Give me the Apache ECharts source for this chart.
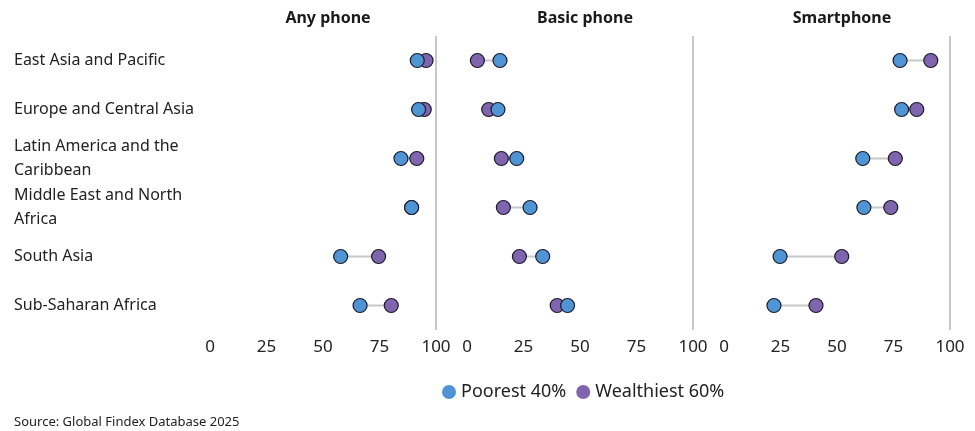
<!DOCTYPE html>
<html>
<head>
<meta charset="utf-8">
<script src="https://cdn.jsdelivr.net/npm/echarts@6/dist/echarts.min.js"></script>
<style>
  html, body { margin: 0; padding: 0; background: #fff; }
  #main { width: 975px; height: 431px; }
</style>
</head>
<body>
<div id="main"></div>
<script>
var regions = ['East Asia and Pacific', 'Europe and Central Asia', 'Latin America and the Caribbean',
    'Middle East and North Africa', 'South Asia', 'Sub-Saharan Africa'];
var panels = ['Any phone', 'Basic phone', 'Smartphone'];
var xTicks = [0, 25, 50, 75, 100];

// Poorest 40% / Wealthiest 60%, per panel, same order as regions
var anyPoor = [91.7, 92.3, 84.5, 89.2, 57.8, 66.4];
var anyRich = [95.6, 94.8, 91.5, 89.2, 74.6, 80.2];
var basicPoor = [14.6, 13.7, 22.0, 27.9, 33.5, 44.5];
var basicRich = [4.6, 9.6, 15.2, 16.1, 23.2, 39.9];
var smartPoor = [77.9, 78.6, 61.4, 61.9, 24.8, 22.1];
var smartRich = [91.5, 85.3, 75.8, 73.8, 52.1, 40.7];

var poorData = [anyPoor, basicPoor, smartPoor];
var richData = [anyRich, basicRich, smartRich];

var BLUE = '#4f94d4';
var PURPLE = '#7f64ae';
var FONT = 'Noto Sans';

var lefts = [210, 467, 724];
var titleX = [323, 580, 837];

var grids = [], xAxes = [], yAxes = [], titles = [], series = [];

panels.forEach(function (name, p) {
    grids.push({ left: lefts[p], width: 226, top: 36, height: 294 });
    titles.push({
        text: name, left: titleX[p], top: 5, textAlign: 'center',
        textStyle: { fontFamily: FONT, fontSize: 16, fontWeight: 'bold', color: '#1a1a1a' }
    });
    xAxes.push({
        type: 'value', gridIndex: p, min: xTicks[0], max: xTicks[xTicks.length - 1], interval: 25,
        axisLine: { show: false }, axisTick: { show: false }, splitLine: { show: false },
        axisLabel: { fontFamily: FONT, fontSize: 17, color: '#222', margin: 9 }
    });
    yAxes.push({
        type: 'category', gridIndex: p, data: regions, inverse: true,
        axisLine: { show: false }, axisTick: { show: false }, splitLine: { show: false },
        axisLabel: p === 0 ? {
            show: true, align: 'left', margin: 196, fontFamily: FONT, fontSize: 16,
            color: '#222', lineHeight: 24,
            formatter: function (v) {
                return v.replace('Latin America and the ', 'Latin America and the\n')
                        .replace('Middle East and North ', 'Middle East and North\n');
            }
        } : { show: false }
    });

    // connecting bars
    series.push({
        type: 'custom', xAxisIndex: p, yAxisIndex: p, silent: true, z: 1,
        data: regions.map(function (r, i) { return [poorData[p][i], richData[p][i], i]; }),
        renderItem: function (params, api) {
            var a = api.coord([api.value(0), api.value(2)]);
            var b = api.coord([api.value(1), api.value(2)]);
            return {
                type: 'line',
                shape: { x1: a[0], y1: a[1], x2: b[0], y2: b[1] },
                style: { stroke: '#c8c8c8', lineWidth: 2 }
            };
        },
        markLine: {
            silent: true, symbol: 'none', label: { show: false },
            lineStyle: { color: '#c8c8c8', width: 2, type: 'solid' },
            data: [{ xAxis: 100 }]
        }
    });
    series.push({
        name: 'Wealthiest 60%', type: 'scatter', xAxisIndex: p, yAxisIndex: p, z: 3,
        symbolSize: 14,
        itemStyle: { color: PURPLE, borderColor: '#1c1c28', borderWidth: 1.2, opacity: 1 },
        data: regions.map(function (r, i) { return [richData[p][i], i]; })
    });
    series.push({
        name: 'Poorest 40%', type: 'scatter', xAxisIndex: p, yAxisIndex: p, z: 4,
        symbolSize: 14,
        itemStyle: { color: BLUE, borderColor: '#1c1c28', borderWidth: 1.2, opacity: 1 },
        data: regions.map(function (r, i) { return [poorData[p][i], i]; })
    });
});

var chart = echarts.init(document.getElementById('main'));
chart.setOption({
    animation: false,
    title: titles,
    grid: grids,
    xAxis: xAxes,
    yAxis: yAxes,
    legend: {
        data: ['Poorest 40%', 'Wealthiest 60%'],
        left: 437, top: 378,
        icon: 'circle', itemWidth: 14, itemHeight: 14, itemGap: 10,
        itemStyle: { borderWidth: 0 },
        textStyle: { fontFamily: FONT, fontSize: 18, color: '#222' }
    },
    graphic: [{
        type: 'text', left: 14, top: 416,
        style: { text: 'Source: Global Findex Database 2025', fontFamily: FONT, fontSize: 13, fill: '#222' }
    }],
    series: series
});
</script>
</body>
</html>
